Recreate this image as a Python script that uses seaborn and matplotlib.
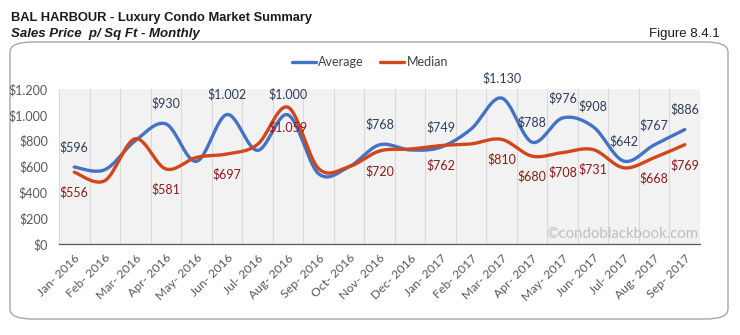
import numpy as np
import pandas as pd
import matplotlib
matplotlib.use("Agg")
import matplotlib.pyplot as plt
from matplotlib.lines import Line2D
from matplotlib.patches import FancyBboxPatch
import seaborn as sns

months = ["Jan- 2016", "Feb- 2016", "Mar- 2016", "Apr- 2016", "May- 2016", "Jun- 2016",
          "Jul- 2016", "Aug- 2016", "Sep- 2016", "Oct- 2016", "Nov- 2016", "Dec- 2016",
          "Jan- 2017", "Feb- 2017", "Mar- 2017", "Apr- 2017", "May- 2017", "Jun- 2017",
          "Jul- 2017", "Aug- 2017", "Sep- 2017"]
average = [596, 575, 800, 930, 640, 1002, 725, 1000, 545, 597, 768, 728,
           749, 890, 1130, 788, 976, 908, 642, 767, 886]
median = [556, 490, 815, 581, 670, 697, 770, 1059, 585, 598, 720, 735,
          762, 775, 810, 680, 708, 731, 590, 668, 769]
avg_labeled = [1, 0, 0, 1, 0, 1, 0, 1, 0, 0, 1, 0, 1, 0, 1, 1, 1, 1, 1, 1, 1]
med_labeled = [1, 0, 0, 1, 0, 1, 0, 1, 0, 0, 1, 0, 1, 0, 1, 1, 1, 1, 0, 1, 1]
yticks = [0, 200, 400, 600, 800, 1000, 1200]

BLUE = "#4472C4"
RED = "#D2461C"
FONT = "Lato"


def fmt(v):
    return "$" + f"{v:,.0f}".replace(",", ".")


def smooth(vals, n=30):
    p = np.column_stack([np.arange(len(vals), dtype=float), np.asarray(vals, float)])
    ext = np.vstack([p[0], p, p[-1]])
    xs, ys = [], []
    t = np.linspace(0, 1, n, endpoint=False)
    for i in range(len(p) - 1):
        p0, p1, p2, p3 = ext[i], ext[i + 1], ext[i + 2], ext[i + 3]
        c1 = p1 + (p2 - p0) / 6.0
        c2 = p2 - (p3 - p1) / 6.0
        b = ((1 - t) ** 3)[:, None] * p1 + (3 * (1 - t) ** 2 * t)[:, None] * c1 \
            + (3 * (1 - t) * t ** 2)[:, None] * c2 + (t ** 3)[:, None] * p2
        xs.append(b[:, 0]); ys.append(b[:, 1])
    xs.append([p[-1, 0]]); ys.append([p[-1, 1]])
    return np.concatenate(xs), np.concatenate(ys)


frames = []
for name, vals in [("Average", average), ("Median", median)]:
    sx, sy = smooth(vals)
    frames.append(pd.DataFrame({"x": sx, "y": sy, "series": name}))
df = pd.concat(frames, ignore_index=True)

sns.set_theme(style="white")
plt.rcParams["font.family"] = [FONT, "DejaVu Sans"]

fig = plt.figure(figsize=(7.4, 3.35), dpi=100)
ax = fig.add_axes([59 / 740, 1 - 244 / 335, (700 - 59) / 740, (244 - 89) / 335])

# outer rounded frame
frame = FancyBboxPatch((10 / 740, 1 - 319 / 335), (728 - 10) / 740, (319 - 42) / 335,
                       boxstyle="round,pad=0,rounding_size=0.03", transform=fig.transFigure,
                       facecolor="white", edgecolor="#A6A6A6", linewidth=1.0, zorder=-10)
fig.patches.append(frame)

ax.set_facecolor("#F2F2F2")
sns.lineplot(data=df, x="x", y="y", hue="series", palette={"Average": BLUE, "Median": RED},
             sort=False, estimator=None, units="series", legend=False, linewidth=2.4, ax=ax)

ax.set_xlim(-0.5, len(months) - 0.5)
ax.set_ylim(0, 1200)
ax.set_xticks(range(len(months)))
ax.set_xticklabels(months, rotation=45, ha="right", rotation_mode="anchor",
                   fontsize=8.8, color="#595959")
ax.set_xticks(np.arange(-0.5, len(months), 1.0), minor=True)
ax.tick_params(axis="x", which="major", length=0, pad=6)
ax.tick_params(axis="x", which="minor", length=4, width=0.8, color="#595959", direction="out")
ax.grid(False)
for xv in np.arange(-0.5, len(months), 1.0):
    ax.axvline(xv, color="#D9D9D9", linewidth=0.8, zorder=0)
ax.set_yticks(yticks)
ax.set_yticklabels([fmt(v) for v in yticks], fontsize=9, color="#595959")
ax.tick_params(axis="y", length=0, pad=8)
for s in ["top", "right", "left"]:
    ax.spines[s].set_visible(False)
ax.spines["bottom"].set_color("#595959")
ax.spines["bottom"].set_linewidth(0.9)
ax.set_xlabel("")
ax.set_ylabel("")

for i, (v, lab) in enumerate(zip(average, avg_labeled)):
    if lab:
        ax.annotate(fmt(v), (i, v), xytext=(0, 10), textcoords="offset points",
                    ha="center", va="bottom", fontsize=9, color="#2E3D5A", clip_on=False)
for i, (v, lab) in enumerate(zip(median, med_labeled)):
    if lab:
        ax.annotate(fmt(v), (i, v), xytext=(0, -10), textcoords="offset points",
                    ha="center", va="top", fontsize=9, color="#8B1A1A", clip_on=False)

ax.text(0.997, 0.02, "\u00a9condoblackbook.com", transform=ax.transAxes, ha="right",
        va="bottom", fontsize=10.8, color="#BFBFBF")

handles = [Line2D([], [], color=BLUE, linewidth=2.4), Line2D([], [], color=RED, linewidth=2.4)]
fig.legend(handles, ["Average", "Median"], loc="center", bbox_to_anchor=(370 / 740, 1 - 62 / 335),
           ncol=2, frameon=False, fontsize=9, handlelength=1.9, handletextpad=0.2,
           columnspacing=1.3, labelcolor="#404040")

fig.text(11 / 740, 1 - 18 / 335, "BAL HARBOUR - Luxury Condo Market Summary",
         fontsize=9.3, fontweight="bold", family=["Liberation Sans", "DejaVu Sans"],
         ha="left", va="center", color="#1A1A1A")
fig.text(11 / 740, 1 - 34 / 335, "Sales Price  p/ Sq Ft - Monthly",
         fontsize=9.5, fontweight="bold", style="italic", family=["Liberation Sans", "DejaVu Sans"],
         ha="left", va="center", color="#1A1A1A")
fig.text(720 / 740, 1 - 34 / 335, "Figure 8.4.1", fontsize=9.5,
         family=["Liberation Sans", "DejaVu Sans"], ha="right", va="center", color="#1A1A1A")

fig.savefig("out.png", dpi=100)
